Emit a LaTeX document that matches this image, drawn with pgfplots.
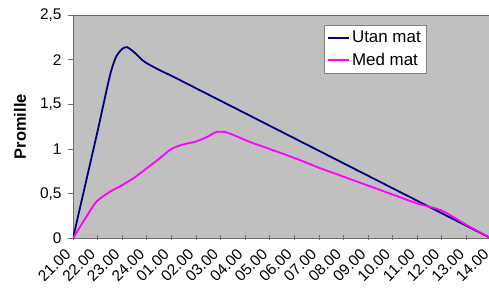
\documentclass[border=0pt]{standalone}
\usepackage{fontspec}
\setmainfont{Liberation Sans}
\usepackage{pgfplots}
\pgfplotsset{compat=1.18}
\usetikzlibrary{calc}
\definecolor{navyc}{RGB}{0,0,128}
\definecolor{magc}{RGB}{255,0,255}
\definecolor{plotbg}{RGB}{192,192,192}
\definecolor{axgray}{RGB}{110,110,110}
\begin{document}
\begin{tikzpicture}
\begin{axis}[
  scale only axis,
  width=420.5bp, height=223.3bp,
  xmin=0, xmax=17.1,
  ymin=0, ymax=2.5,
  axis background/.style={fill=plotbg},
  axis line style={axgray, line width=0.8bp},
  xtick={0,...,17},
  xticklabels={21.00,22.00,23.00,24.00,01.00,02.00,03.00,04.00,05.00,06.00,07.00,08.00,09.00,10.00,11.00,12.00,13.00,14.00},
  ytick={0,0.5,1,1.5,2,2.5},
  yticklabels={0,{0,5},1,{1,5},2,{2,5}},
  tick align=outside,
  major tick length=5bp,
  x tick style={axgray, line width=0.8bp, yshift=3bp},
  y tick style={axgray, line width=0.8bp},
  xtick pos=bottom, ytick pos=left,
  x tick label style={font=\fontsize{15.5}{18}\selectfont, xshift=-9bp, yshift=-3bp, rotate=45, anchor=north east, inner sep=1bp},
  y tick label style={font=\fontsize{15.5}{18}\selectfont, xshift=-3bp},
  /pgf/number format/assume math mode=true,
  ylabel={\textbf{Promille}},
  ylabel style={font=\fontsize{16.5}{19}\selectfont, at={(axis description cs:-0.126,0.5)}, anchor=center},
  legend style={at={(0.597,0.955)}, anchor=north west, draw=gray, fill=white,
    font=\fontsize{17}{20}\selectfont, inner xsep=3bp, inner ysep=4bp, row sep=5bp},
  legend cell align=left,
  legend image code/.code={\draw[#1] (0bp,0bp) -- (21bp,0bp);},
  clip=true,
]
\addplot[navyc, line width=1.8bp, smooth, tension=0.4] coordinates {
(0,0) (0.5,0.6) (1,1.2) (1.5,1.82) (1.75,2.03) (2,2.12) (2.2,2.14) (2.5,2.08) (2.8,2.0) (3,1.96)
(3.54,1.88) (4,1.82) (5,1.68) (6,1.54) (7,1.40) (8,1.26) (9,1.12) (10,0.98) (11,0.84)
(12,0.70) (13,0.56) (14,0.42) (15,0.28) (16,0.14) (17,0.0)
};
\addlegendentry{Utan mat}
\addplot[magc, line width=1.8bp, smooth, tension=0.4] coordinates {
(0,0) (0.54,0.24) (0.95,0.41) (1.49,0.52) (1.97,0.59) (2.5,0.68) (2.98,0.78) (3.5,0.89) (4,1.0) (4.47,1.05)
(4.95,1.08) (5.42,1.13) (5.83,1.19) (6.17,1.19) (6.5,1.16) (7.18,1.08) (8,1.0) (9,0.9)
(10,0.79) (11,0.69) (12,0.59) (13,0.49) (14,0.39) (15,0.31) (16,0.15) (17,0.0)
};
\addlegendentry{Med mat}
\end{axis}
\pgfresetboundingbox
\path[use as bounding box] ($(current axis.south west)+(-73bp,-50bp)$) rectangle ($(current axis.north west)+(416bp,15bp)$);
\end{tikzpicture}
\end{document}
